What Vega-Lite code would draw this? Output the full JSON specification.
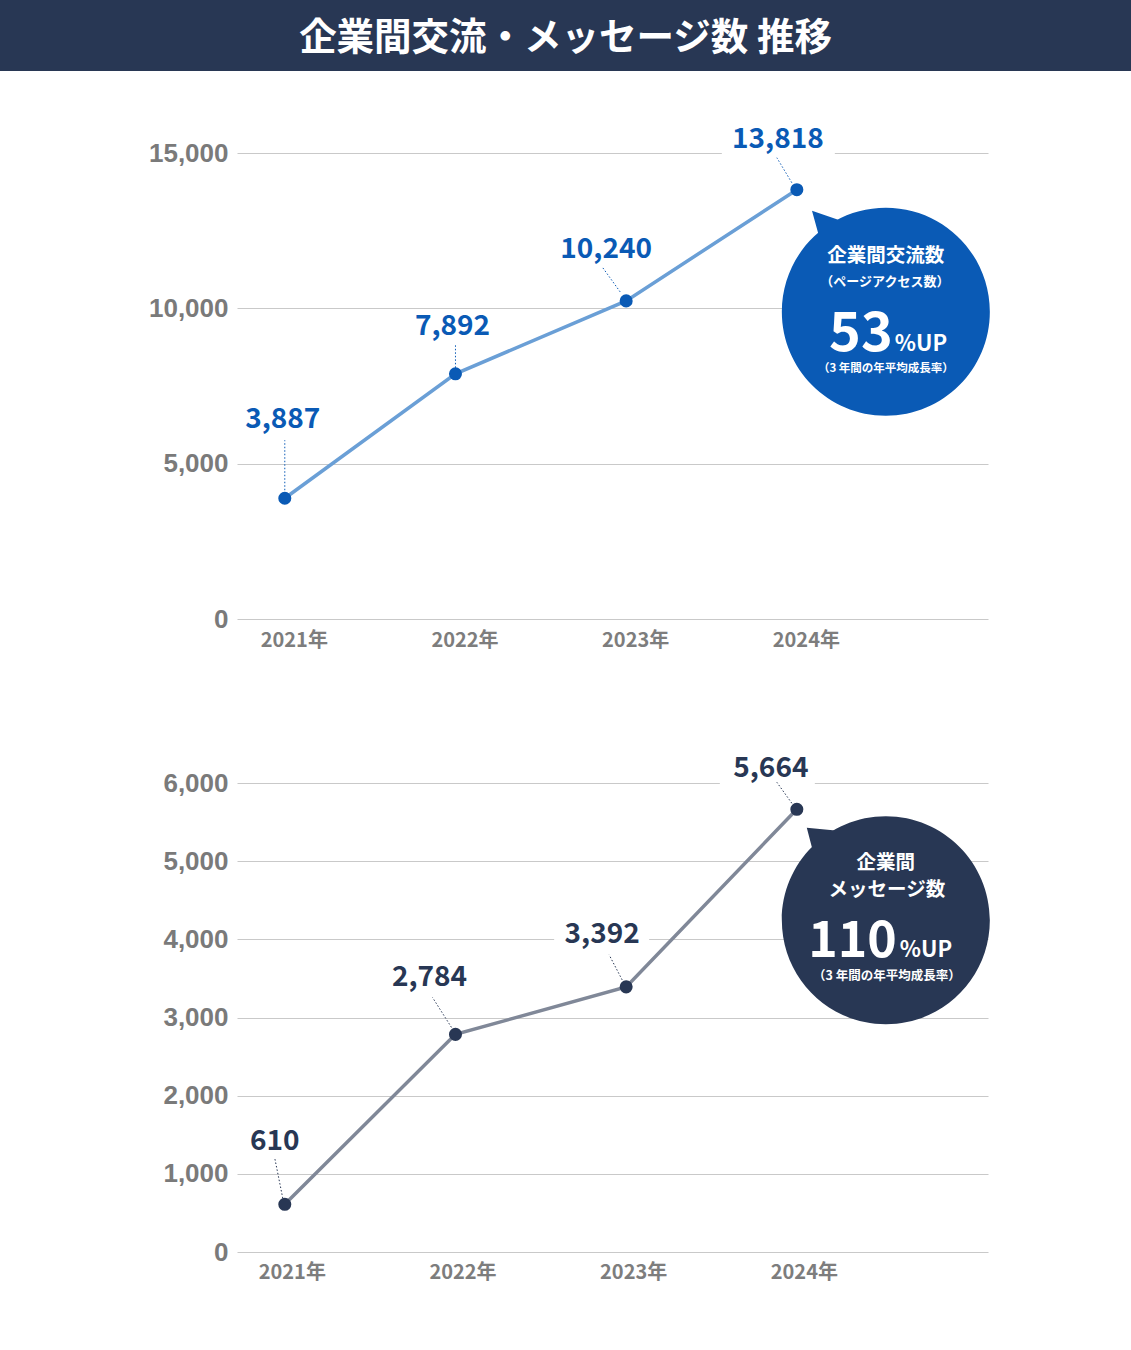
{
  "$schema": "https://vega.github.io/schema/vega-lite/v6.json",
  "padding": {"top": 0, "left": 0, "right": 0, "bottom": 60},
  "background": "white",
  "bounds": "flush",
  "spacing": 82,
  "config": {"view": {"stroke": null}},
  "datasets": {
    "pv": [
      {"year": 2021, "value": 3887},
      {"year": 2022, "value": 7892},
      {"year": 2023, "value": 10240},
      {"year": 2024, "value": 13818}
    ],
    "msg": [
      {"year": 2021, "value": 610},
      {"year": 2022, "value": 2784},
      {"year": 2023, "value": 3392},
      {"year": 2024, "value": 5664}
    ]
  },
  "vconcat": [
    {
      "width": 1131,
      "height": 71,
      "view": {"fill": "#283754", "stroke": null},
      "data": {"values": [{"title": "企業間交流・メッセージ数 推移"}]},
      "mark": {"type": "text", "color": "white", "font": "Noto Sans CJK JP", "fontSize": 37.5, "fontWeight": "bold", "dy": 3},
      "encoding": {"text": {"field": "title"}}
    },
    {
      "bounds": "flush",
      "spacing": 0,
      "hconcat": [
        {"width": 237, "height": 1, "data": {"values": []}, "mark": "point"},
        {
          "bounds": "flush",
          "spacing": 164,
          "vconcat": [
            {
              "width": 751,
              "height": 466,
              "data": {"name": "pv"},
              "encoding": {
                "x": {
                  "field": "year", "type": "quantitative",
                  "scale": {"domain": [2020.72, 2025.12], "nice": false, "zero": false},
                  "axis": {"values": [2021, 2022, 2023, 2024], "labelExpr": "datum.value + '年'", "grid": false, "domain": false, "ticks": false, "labelFont": "Noto Sans CJK JP", "labelFontSize": 20, "labelFontWeight": 600, "labelColor": "#7d7d7d", "labelPadding": 11, "labelOffset": 9, "labelFlush": false, "title": null}
                },
                "y": {
                  "field": "value", "type": "quantitative",
                  "scale": {"domain": [0, 15000], "nice": false},
                  "axis": {"values": [0, 5000, 10000, 15000], "labelExpr": "format(datum.value, ',.0f')", "grid": true, "gridColor": "#c9c9c9", "domain": false, "ticks": false, "labelFont": "Liberation Sans", "labelFontWeight": "bold", "labelFontSize": 26, "labelColor": "#7a7a7a", "labelPadding": 9, "title": null}
                }
              },
              "layer": [
                {
                  "transform": [{"filter": "datum.year == 2024"}],
                  "mark": {"type": "rect", "color": "white", "xOffset": -75, "x2Offset": 38, "yOffset": -64, "y2Offset": -29},
                  "encoding": {"x2": {"field": "year"}, "y2": {"field": "value"}}
                },
                {"mark": {"type": "line", "color": "#6a9fd6", "strokeWidth": 3.5}},
                {
                  "mark": {
                    "type": "rule", "color": "#0a5ab5", "strokeWidth": 1, "strokeDash": [1.5, 2],
                    "xOffset": {"expr": "datum.year == 2023 ? -6 : datum.year == 2024 ? -5 : 0"},
                    "yOffset": {"expr": "datum.year == 2021 ? -8 : datum.year == 2022 ? -6 : datum.year == 2023 ? -9 : -7"},
                    "x2Offset": {"expr": "datum.year == 2023 ? -24 : datum.year == 2024 ? -20 : 0"},
                    "y2Offset": {"expr": "datum.year == 2021 ? -58 : datum.year == 2022 ? -29 : datum.year == 2023 ? -34 : -32"}
                  },
                  "encoding": {"x2": {"field": "year"}, "y2": {"field": "value"}}
                },
                {"mark": {"type": "circle", "size": 170, "color": "#0a5ab5", "opacity": 1}},
                {
                  "mark": {
                    "type": "text", "font": "Noto Sans CJK JP", "fontSize": 28, "fontWeight": 600, "color": "#0a5ab5",
                    "dx": {"expr": "datum.year == 2021 ? -2 : datum.year == 2022 ? -3 : datum.year == 2023 ? -20 : -19"},
                    "dy": {"expr": "datum.year == 2021 ? -78 : datum.year == 2022 ? -47 : datum.year == 2023 ? -51 : -50"}
                  },
                  "encoding": {"text": {"field": "value", "type": "quantitative", "format": ",.0f"}}
                },
                {
                  "transform": [{"filter": "datum.year == 2024"}],
                  "mark": {"type": "point", "shape": "M -0.71 -0.97 L -0.36 -0.85 L -0.63 -0.68 Z M 1 0 A 1 1 0 1 1 -1 0 A 1 1 0 1 1 1 0 Z", "size": 43264, "filled": true, "color": "#0a5ab5", "opacity": 1, "strokeWidth": 0, "xOffset": 89, "yOffset": 122}
                },
                {
                  "transform": [{"filter": "datum.year == 2024"}],
                  "mark": {"type": "text", "text": "企業間交流数", "font": "Noto Sans CJK JP", "fontSize": 19.5, "fontWeight": "bold", "color": "white", "dx": 89, "dy": 66}
                },
                {
                  "transform": [{"filter": "datum.year == 2024"}],
                  "mark": {"type": "text", "text": "（ページアクセス数）", "font": "Noto Sans CJK JP", "fontSize": 13, "fontWeight": "bold", "color": "white", "dx": 88, "dy": 92}
                },
                {
                  "transform": [{"filter": "datum.year == 2024"}],
                  "mark": {"type": "text", "text": "53", "font": "Noto Sans CJK JP", "fontSize": 54, "fontWeight": "bold", "color": "white", "align": "right", "baseline": "alphabetic", "dx": 96, "dy": 161}
                },
                {
                  "transform": [{"filter": "datum.year == 2024"}],
                  "mark": {"type": "text", "text": "%UP", "font": "Noto Sans CJK JP", "fontSize": 22, "fontWeight": "bold", "color": "white", "align": "left", "baseline": "alphabetic", "dx": 98, "dy": 161}
                },
                {
                  "transform": [{"filter": "datum.year == 2024"}],
                  "mark": {"type": "text", "text": "（3 年間の年平均成長率）", "font": "Noto Sans CJK JP", "fontSize": 11.5, "fontWeight": "bold", "color": "white", "dx": 89, "dy": 179}
                }
              ]
            },
            {
              "width": 751,
              "height": 469,
              "data": {"name": "msg"},
              "encoding": {
                "x": {
                  "field": "year", "type": "quantitative",
                  "scale": {"domain": [2020.72, 2025.12], "nice": false, "zero": false},
                  "axis": {"values": [2021, 2022, 2023, 2024], "labelExpr": "datum.value + '年'", "grid": false, "domain": false, "ticks": false, "labelFont": "Noto Sans CJK JP", "labelFontSize": 20, "labelFontWeight": 600, "labelColor": "#7d7d7d", "labelPadding": 10, "labelOffset": 7, "labelFlush": false, "title": null}
                },
                "y": {
                  "field": "value", "type": "quantitative",
                  "scale": {"domain": [0, 6000], "nice": false},
                  "axis": {"values": [0, 1000, 2000, 3000, 4000, 5000, 6000], "labelExpr": "format(datum.value, ',.0f')", "grid": true, "gridColor": "#c9c9c9", "domain": false, "ticks": false, "labelFont": "Liberation Sans", "labelFontWeight": "bold", "labelFontSize": 26, "labelColor": "#7a7a7a", "labelPadding": 9, "title": null}
                }
              },
              "layer": [
                {
                  "transform": [{"filter": "datum.year >= 2023"}],
                  "mark": {
                    "type": "rect", "color": "white",
                    "xOffset": {"expr": "datum.year == 2023 ? -72 : -77"},
                    "x2Offset": {"expr": "datum.year == 2023 ? 23 : 18"},
                    "yOffset": {"expr": "datum.year == 2023 ? -66 : -55"},
                    "y2Offset": {"expr": "datum.year == 2023 ? -38 : -20"}
                  },
                  "encoding": {"x2": {"field": "year"}, "y2": {"field": "value"}}
                },
                {"mark": {"type": "line", "color": "#808898", "strokeWidth": 3.5}},
                {
                  "mark": {
                    "type": "rule", "color": "#283754", "strokeWidth": 1, "strokeDash": [1.5, 2],
                    "xOffset": {"expr": "datum.year == 2021 ? -2 : datum.year == 2024 ? -5 : -4"},
                    "yOffset": {"expr": "datum.year == 2021 ? -6 : datum.year == 2024 ? -6 : -7"},
                    "x2Offset": {"expr": "datum.year == 2021 ? -10 : datum.year == 2022 ? -23 : datum.year == 2023 ? -17 : -20"},
                    "y2Offset": {"expr": "datum.year == 2021 ? -46 : datum.year == 2022 ? -37 : datum.year == 2023 ? -32 : -27"}
                  },
                  "encoding": {"x2": {"field": "year"}, "y2": {"field": "value"}}
                },
                {"mark": {"type": "circle", "size": 170, "color": "#283754", "opacity": 1}},
                {
                  "mark": {
                    "type": "text", "font": "Noto Sans CJK JP", "fontSize": 28, "fontWeight": 600, "color": "#283754",
                    "dx": {"expr": "datum.year == 2021 ? -10 : datum.year == 2022 ? -26 : datum.year == 2023 ? -24 : -26"},
                    "dy": {"expr": "datum.year == 2021 ? -62 : datum.year == 2022 ? -56 : datum.year == 2023 ? -52 : -40"}
                  },
                  "encoding": {"text": {"field": "value", "type": "quantitative", "format": ",.0f"}}
                },
                {
                  "transform": [{"filter": "datum.year == 2024"}],
                  "mark": {"type": "point", "shape": "M -0.76 -0.89 L -0.46 -0.86 L -0.69 -0.62 Z M 1 0 A 1 1 0 1 1 -1 0 A 1 1 0 1 1 1 0 Z", "size": 43264, "filled": true, "color": "#283754", "opacity": 1, "strokeWidth": 0, "xOffset": 89, "yOffset": 111}
                },
                {
                  "transform": [{"filter": "datum.year == 2024"}],
                  "mark": {"type": "text", "text": "企業間", "font": "Noto Sans CJK JP", "fontSize": 19.5, "fontWeight": "bold", "color": "white", "dx": 89, "dy": 54}
                },
                {
                  "transform": [{"filter": "datum.year == 2024"}],
                  "mark": {"type": "text", "text": "メッセージ数", "font": "Noto Sans CJK JP", "fontSize": 19.5, "fontWeight": "bold", "color": "white", "dx": 90, "dy": 81}
                },
                {
                  "transform": [{"filter": "datum.year == 2024"}],
                  "mark": {"type": "text", "text": "110", "font": "Noto Sans CJK JP", "fontSize": 50, "fontWeight": "bold", "color": "white", "align": "right", "baseline": "alphabetic", "dx": 100, "dy": 148}
                },
                {
                  "transform": [{"filter": "datum.year == 2024"}],
                  "mark": {"type": "text", "text": "%UP", "font": "Noto Sans CJK JP", "fontSize": 22, "fontWeight": "bold", "color": "white", "align": "left", "baseline": "alphabetic", "dx": 103, "dy": 148}
                },
                {
                  "transform": [{"filter": "datum.year == 2024"}],
                  "mark": {"type": "text", "text": "（3 年間の年平均成長率）", "font": "Noto Sans CJK JP", "fontSize": 12.5, "fontWeight": "bold", "color": "white", "dx": 90, "dy": 167}
                }
              ]
            }
          ]
        }
      ]
    }
  ]
}
